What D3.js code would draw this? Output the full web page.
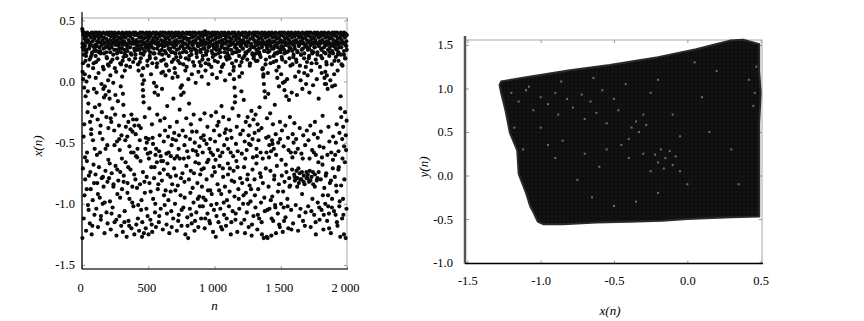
<!DOCTYPE html>
<html>
<head>
<meta charset="utf-8">
<script src="https://cdn.jsdelivr.net/npm/d3@7"></script>
<style>
  body { margin: 0; background: #fff; }
  svg { display: block; }
</style>
</head>
<body>
<div id="chart"></div>
<script>
// left panel: x(n) against n as [n, x(n)]
// dense band along the top
var bandPoints = [
  [2,0.43],[6,0.41],[10,0.38],[15,0.40],[19,0.35],[24,0.39],[29,0.33],[34,0.37],[40,0.40],[45,0.34],[51,0.38],[56,0.32],[62,0.39],[68,0.36],[74,0.40],[80,0.33],[86,0.38],[92,0.35],[97,0.40],
  [103,0.37],[109,0.40],[114,0.33],[120,0.38],[126,0.35],[131,0.40],[137,0.32],[143,0.37],[148,0.39],[154,0.34],[160,0.40],[166,0.36],[172,0.31],[177,0.39],[183,0.35],[189,0.40],[195,0.33],
  [201,0.38],[207,0.40],[212,0.34],[218,0.37],[224,0.40],[230,0.32],[235,0.38],[241,0.35],[247,0.40],[253,0.33],[258,0.37],[264,0.39],[270,0.34],[276,0.40],[282,0.36],[288,0.32],[294,0.39],
  [300,0.35],[305,0.40],[311,0.37],[317,0.33],[323,0.39],[329,0.36],[334,0.40],[340,0.31],[346,0.38],[352,0.34],[358,0.40],[364,0.37],[369,0.32],[375,0.39],[381,0.35],[387,0.40],[393,0.33],[398,0.38],
  [404,0.40],[410,0.34],[416,0.38],[421,0.32],[427,0.39],[433,0.36],[439,0.40],[445,0.33],[451,0.37],[457,0.40],[462,0.35],[468,0.31],[474,0.39],[480,0.36],[486,0.40],[492,0.33],[497,0.38],
  [503,0.35],[509,0.40],[515,0.37],[520,0.32],[526,0.39],[532,0.34],[538,0.40],[544,0.36],[550,0.33],[556,0.38],[561,0.40],[567,0.35],[573,0.31],[579,0.39],[585,0.37],[591,0.40],[597,0.34],
  [602,0.38],[608,0.40],[614,0.33],[620,0.37],[626,0.40],[631,0.35],[637,0.32],[643,0.39],[649,0.36],[655,0.40],[661,0.34],[667,0.38],[672,0.31],[678,0.40],[684,0.36],[690,0.39],[696,0.33],
  [701,0.37],[707,0.40],[713,0.34],[719,0.38],[725,0.32],[730,0.40],[736,0.36],[742,0.39],[748,0.33],[754,0.37],[760,0.40],[766,0.35],[771,0.31],[777,0.39],[783,0.36],[789,0.40],[795,0.34],
  [801,0.39],[807,0.35],[812,0.40],[818,0.32],[824,0.38],[830,0.36],[836,0.40],[842,0.33],[848,0.37],[853,0.40],[859,0.34],[865,0.39],[871,0.31],[877,0.36],[883,0.40],[889,0.35],[895,0.38],
  [900,0.33],[906,0.40],[912,0.37],[918,0.34],[924,0.39],[929,0.41],[935,0.32],[941,0.38],[947,0.35],[953,0.40],[959,0.36],[965,0.33],[970,0.39],[976,0.37],[982,0.40],[988,0.34],[994,0.38],
  [1000,0.40],[1006,0.35],[1011,0.38],[1017,0.32],[1023,0.40],[1029,0.36],[1035,0.39],[1041,0.33],[1047,0.37],[1052,0.40],[1058,0.34],[1064,0.31],[1070,0.38],[1076,0.40],[1082,0.35],[1088,0.37],[1094,0.33],[1099,0.39],
  [1105,0.40],[1111,0.36],[1117,0.33],[1123,0.39],[1129,0.35],[1134,0.40],[1140,0.32],[1146,0.37],[1152,0.40],[1158,0.34],[1164,0.38],[1170,0.36],[1175,0.31],[1181,0.40],[1187,0.35],[1193,0.38],[1199,0.33],
  [1205,0.39],[1211,0.40],[1216,0.34],[1222,0.37],[1228,0.32],[1234,0.40],[1240,0.36],[1246,0.39],[1252,0.33],[1257,0.38],[1263,0.40],[1269,0.35],[1275,0.31],[1281,0.39],[1287,0.36],[1293,0.40],[1298,0.34],
  [1304,0.38],[1310,0.40],[1316,0.33],[1322,0.37],[1328,0.40],[1334,0.35],[1339,0.32],[1345,0.39],[1351,0.36],[1357,0.40],[1363,0.34],[1369,0.38],[1375,0.31],[1380,0.40],[1386,0.36],[1392,0.39],[1398,0.33],
  [1404,0.37],[1410,0.40],[1416,0.34],[1421,0.38],[1427,0.32],[1433,0.40],[1439,0.36],[1445,0.39],[1451,0.33],[1457,0.37],[1462,0.40],[1468,0.35],[1474,0.31],[1480,0.39],[1486,0.36],[1492,0.40],[1498,0.34],
  [1503,0.38],[1509,0.40],[1515,0.33],[1521,0.37],[1527,0.40],[1533,0.35],[1539,0.32],[1544,0.39],[1550,0.36],[1556,0.40],[1562,0.34],[1568,0.38],[1574,0.31],[1580,0.40],[1585,0.36],[1591,0.39],[1597,0.33],
  [1603,0.37],[1609,0.40],[1615,0.34],[1621,0.38],[1626,0.32],[1632,0.40],[1638,0.36],[1644,0.39],[1650,0.33],[1656,0.37],[1662,0.40],[1667,0.35],[1673,0.31],[1679,0.39],[1685,0.36],[1691,0.40],[1697,0.34],
  [1703,0.38],[1708,0.40],[1714,0.33],[1720,0.37],[1726,0.40],[1732,0.35],[1738,0.32],[1744,0.39],[1749,0.36],[1755,0.40],[1761,0.34],[1767,0.38],[1773,0.31],[1779,0.40],[1785,0.36],[1790,0.39],[1796,0.33],
  [1802,0.37],[1808,0.40],[1814,0.34],[1820,0.38],[1826,0.32],[1831,0.40],[1837,0.36],[1843,0.39],[1849,0.33],[1855,0.37],[1861,0.40],[1867,0.35],[1872,0.31],[1878,0.39],[1884,0.36],[1890,0.40],[1896,0.34],
  [1902,0.38],[1908,0.40],[1913,0.33],[1919,0.37],[1925,0.40],[1931,0.35],[1937,0.32],[1943,0.39],[1949,0.36],[1954,0.40],[1960,0.34],[1966,0.38],[1972,0.31],[1978,0.40],[1984,0.36],[1990,0.39],[1995,0.33],[1999,0.38]
];

// thick zone right under the band
var underBandPoints = [
  [4,0.31],[13,0.26],[22,0.29],[33,0.24],[43,0.32],[54,0.27],[64,0.31],[73,0.22],[83,0.29],[93,0.25],
  [101,0.30],[111,0.25],[121,0.32],[131,0.28],[141,0.23],[152,0.31],[162,0.27],[173,0.32],[183,0.24],[194,0.29],
  [203,0.31],[213,0.24],[223,0.28],[233,0.32],[243,0.26],[254,0.30],[264,0.23],[275,0.31],[285,0.27],[296,0.32],
  [302,0.27],[312,0.32],[322,0.23],[332,0.30],[343,0.25],[353,0.31],[363,0.28],[374,0.22],[384,0.31],[394,0.27],
  [402,0.31],[413,0.26],[423,0.32],[434,0.29],[443,0.23],[454,0.27],[464,0.32],[475,0.25],[485,0.30],[496,0.28],
  [505,0.30],[515,0.24],[526,0.28],[536,0.32],[547,0.23],[557,0.31],[567,0.27],[578,0.32],[588,0.25],[598,0.30],
  [603,0.26],[613,0.32],[623,0.29],[634,0.23],[644,0.31],[654,0.27],[664,0.32],[675,0.24],[685,0.30],[695,0.28],
  [706,0.31],[716,0.26],[727,0.32],[737,0.23],[747,0.29],[757,0.32],[768,0.27],[778,0.31],[788,0.24],[798,0.30],
  [803,0.28],[813,0.32],[823,0.25],[834,0.30],[844,0.27],[854,0.32],[864,0.23],[874,0.29],[885,0.31],[894,0.26],
  [905,0.32],[915,0.27],[926,0.30],[936,0.24],[946,0.31],[956,0.28],[967,0.32],[977,0.25],[987,0.30],[997,0.27],
  [1003,0.31],[1013,0.26],[1023,0.29],[1034,0.32],[1044,0.24],[1054,0.28],[1065,0.32],[1075,0.27],[1085,0.31],[1096,0.23],
  [1106,0.29],[1116,0.32],[1126,0.26],[1136,0.31],[1147,0.24],[1157,0.30],[1167,0.27],[1178,0.32],[1188,0.25],[1197,0.29],
  [1203,0.31],[1214,0.27],[1224,0.32],[1234,0.24],[1245,0.29],[1255,0.32],[1265,0.26],[1276,0.30],[1286,0.23],[1296,0.28],
  [1307,0.32],[1317,0.26],[1327,0.30],[1337,0.24],[1347,0.31],[1358,0.28],[1368,0.32],[1378,0.25],[1389,0.30],[1399,0.27],
  [1405,0.31],[1415,0.25],[1425,0.29],[1436,0.32],[1446,0.27],[1456,0.23],[1467,0.31],[1477,0.28],[1487,0.32],[1497,0.24],
  [1504,0.29],[1514,0.32],[1525,0.26],[1535,0.30],[1545,0.24],[1556,0.31],[1566,0.28],[1576,0.32],[1587,0.25],[1596,0.30],
  [1606,0.27],[1616,0.32],[1627,0.24],[1637,0.29],[1647,0.31],[1658,0.26],[1668,0.32],[1678,0.23],[1689,0.30],[1699,0.28],
  [1704,0.32],[1714,0.27],[1725,0.30],[1735,0.25],[1745,0.31],[1756,0.28],[1766,0.32],[1776,0.24],[1787,0.29],[1797,0.31],
  [1807,0.26],[1817,0.32],[1827,0.28],[1838,0.23],[1848,0.30],[1858,0.32],[1868,0.27],[1879,0.31],[1889,0.25],[1899,0.29],
  [1905,0.32],[1916,0.27],[1926,0.30],[1936,0.24],[1946,0.31],[1957,0.28],[1967,0.32],[1977,0.22],[1988,0.30],[1998,0.26]
];

// points between 0.1 and 0.3
var upperPoints = [
  [5,0.28],[14,0.22],[19,0.30],[26,0.17],[35,0.26],[47,0.13],[58,0.29],[66,0.20],[77,0.24],[88,0.15],[95,0.27],
  [103,0.21],[112,0.29],[124,0.18],[137,0.25],[149,0.30],[158,0.12],[166,0.23],[179,0.28],[188,0.19],[196,0.14],
  [206,0.27],[217,0.16],[225,0.30],[236,0.22],[248,0.11],[259,0.26],[266,0.19],[278,0.29],[289,0.15],[294,0.24],
  [305,0.30],[313,0.20],[322,0.26],[334,0.13],[345,0.28],[356,0.18],[368,0.23],[377,0.31],[386,0.16],[398,0.25],
  [404,0.22],[415,0.29],[423,0.14],[432,0.26],[444,0.19],[452,0.30],[461,0.11],[469,0.24],[481,0.28],[493,0.17],
  [502,0.26],[511,0.21],[523,0.30],[531,0.15],[542,0.27],[556,0.19],[564,0.12],[575,0.29],[584,0.23],[597,0.17],
  [608,0.29],[617,0.18],[626,0.25],[638,0.13],[647,0.30],[655,0.21],[666,0.27],[678,0.16],[687,0.24],[699,0.11],
  [704,0.23],[712,0.30],[725,0.17],[733,0.27],[744,0.20],[756,0.29],[765,0.14],[776,0.25],[784,0.19],[795,0.28],
  [806,0.18],[815,0.27],[826,0.22],[835,0.30],[847,0.13],[856,0.26],[867,0.20],[879,0.29],[888,0.16],[896,0.24],
  [903,0.30],[912,0.21],[924,0.27],[933,0.15],[945,0.25],[953,0.18],[964,0.29],[976,0.12],[985,0.23],[997,0.28],
  [1005,0.22],[1016,0.29],[1025,0.16],[1037,0.26],[1044,0.20],[1056,0.30],[1067,0.14],[1075,0.24],[1086,0.27],[1094,0.18],
  [1103,0.26],[1114,0.19],[1122,0.30],[1135,0.23],[1146,0.12],[1155,0.28],[1163,0.17],[1177,0.25],[1186,0.21],[1198,0.30],
  [1204,0.16],[1213,0.27],[1226,0.21],[1234,0.30],[1247,0.18],[1255,0.25],[1266,0.13],[1278,0.28],[1287,0.22],[1295,0.19],
  [1306,0.29],[1314,0.23],[1325,0.17],[1336,0.27],[1348,0.20],[1357,0.30],[1365,0.11],[1374,0.25],[1388,0.18],[1397,0.28],
  [1404,0.24],[1416,0.30],[1423,0.15],[1435,0.27],[1447,0.21],[1454,0.29],[1466,0.17],[1477,0.24],[1485,0.12],[1496,0.26],
  [1507,0.20],[1515,0.28],[1527,0.23],[1536,0.16],[1544,0.30],[1558,0.25],[1566,0.19],[1574,0.27],[1589,0.14],[1597,0.22],
  [1603,0.29],[1616,0.18],[1624,0.25],[1637,0.30],[1645,0.13],[1653,0.22],[1668,0.27],[1676,0.19],[1685,0.29],[1698,0.16],
  [1705,0.26],[1714,0.21],[1726,0.30],[1733,0.15],[1746,0.24],[1755,0.28],[1764,0.18],[1777,0.22],[1788,0.30],[1796,0.12],
  [1806,0.27],[1813,0.19],[1827,0.24],[1835,0.30],[1844,0.16],[1857,0.26],[1866,0.21],[1874,0.29],[1886,0.14],[1895,0.23],
  [1904,0.30],[1915,0.20],[1923,0.26],[1936,0.17],[1944,0.28],[1955,0.22],[1966,0.13],[1977,0.25],[1986,0.19],[1995,0.29]
];

// points between 0.1 and -0.6
var middlePoints = [
  [4,0.08],[9,0.02],[16,-0.05],[21,0.06],[27,-0.12],[34,0.00],[42,-0.25],[48,-0.18],[55,0.04],[61,-0.33],[69,-0.43],[75,-0.28],[83,-0.48],[90,-0.06],[96,-0.55],[12,-0.45],[38,-0.58],
  [104,0.03],[110,-0.09],[118,-0.31],[125,0.07],[131,-0.19],[140,-0.36],[147,-0.02],[155,-0.47],[161,-0.06],[166,-0.13],[172,-0.04],[178,-0.11],[184,-0.29],[191,-0.52],[197,0.01],[136,-0.58],
  [203,-0.08],[208,-0.14],[214,0.05],[221,-0.33],[229,-0.22],[236,-0.01],[243,-0.40],[250,-0.27],[258,0.08],[264,-0.49],[271,-0.16],[279,-0.36],[285,-0.56],[292,-0.04],[298,-0.44],
  [303,0.04],[309,-0.10],[316,-0.28],[323,0.09],[331,-0.37],[342,-0.45],[350,-0.33],[358,-0.53],[366,-0.39],[373,-0.27],[381,-0.41],[389,-0.58],[396,-0.36],[312,-0.19],
  [405,-0.43],[412,-0.31],[419,-0.55],[427,0.09],[436,-0.48],[444,-0.38],[452,0.05],[457,-0.02],[460,-0.07],[462,-0.12],[465,-0.17],[468,0.01],[474,-0.29],[482,-0.46],[489,-0.50],[496,-0.59],
  [503,-0.47],[508,-0.22],[515,-0.58],[521,0.06],[528,-0.35],[536,-0.51],[543,-0.01],[548,-0.09],[555,-0.60],[561,-0.04],[568,-0.27],[574,-0.11],[582,-0.57],[587,-0.44],[594,-0.61],[599,0.07],
  [604,-0.06],[611,0.08],[617,-0.49],[623,-0.30],[630,0.05],[637,-0.59],[643,-0.20],[650,-0.45],[657,0.09],[663,-0.37],[670,-0.61],[676,-0.52],[683,0.03],[690,-0.14],[696,-0.42],
  [703,0.07],[709,-0.48],[716,-0.33],[722,0.04],[729,-0.55],[737,-0.23],[744,-0.05],[748,-0.11],[754,-0.03],[760,-0.40],[767,-0.09],[773,-0.52],[780,0.09],[787,-0.30],[794,-0.57],
  [803,0.02],[808,-0.18],[815,-0.47],[822,-0.35],[829,0.06],[836,-0.56],[843,-0.27],[851,-0.50],[858,-0.01],[865,-0.41],[872,-0.60],[879,0.08],[886,-0.53],[893,-0.31],[898,-0.46],
  [904,0.04],[911,-0.58],[918,-0.44],[925,-0.26],[932,0.09],[940,-0.51],[947,-0.37],[954,-0.02],[961,-0.55],[968,-0.47],[975,-0.28],[983,0.06],[989,-0.60],[996,-0.40],
  [1004,-0.49],[1011,-0.25],[1018,0.03],[1025,-0.56],[1031,-0.33],[1038,-0.44],[1046,0.08],[1053,-0.20],[1059,-0.58],[1066,-0.29],[1073,-0.52],[1080,0.01],[1087,-0.39],[1094,-0.47],
  [1103,-0.55],[1109,-0.31],[1116,0.06],[1122,-0.58],[1129,-0.46],[1136,-0.22],[1143,0.09],[1147,0.02],[1151,-0.05],[1156,-0.12],[1162,-0.51],[1168,-0.37],[1175,-0.57],[1182,-0.28],[1188,0.04],[1195,-0.43],
  [1203,-0.08],[1208,0.07],[1214,-0.40],[1221,-0.15],[1228,-0.49],[1236,-0.33],[1243,-0.56],[1250,-0.29],[1258,-0.44],[1265,-0.36],[1272,-0.52],[1279,-0.24],[1287,-0.47],[1294,-0.31],
  [1303,-0.42],[1310,-0.27],[1317,-0.55],[1325,-0.35],[1332,-0.48],[1340,-0.21],[1348,-0.58],[1355,-0.38],[1362,0.10],[1368,0.04],[1373,-0.02],[1378,-0.08],[1383,-0.13],[1390,-0.46],[1396,-0.30],
  [1403,0.07],[1408,-0.45],[1414,-0.52],[1420,-0.26],[1427,-0.57],[1434,-0.48],[1441,-0.35],[1448,-0.55],[1455,-0.19],[1462,-0.43],[1468,0.09],[1474,0.03],[1481,-0.50],[1487,-0.04],[1494,-0.33],
  [1503,0.06],[1509,-0.40],[1516,-0.01],[1522,-0.53],[1528,-0.07],[1535,-0.36],[1542,-0.12],[1548,0.02],[1555,-0.46],[1562,-0.15],[1569,-0.29],[1576,-0.58],[1583,-0.09],[1590,-0.43],[1597,-0.50],
  [1603,-0.34],[1609,0.04],[1616,-0.47],[1622,-0.11],[1629,-0.55],[1636,0.08],[1643,-0.38],[1650,0.01],[1656,-0.59],[1663,-0.06],[1670,-0.44],[1677,0.07],[1684,-0.52],[1691,-0.02],[1697,-0.40],
  [1703,0.05],[1709,-0.48],[1716,-0.09],[1723,-0.36],[1730,0.09],[1737,-0.56],[1744,-0.03],[1751,-0.43],[1758,-0.33],[1765,-0.60],[1772,0.02],[1779,-0.46],[1786,-0.14],[1793,-0.53],
  [1803,-0.41],[1809,0.07],[1816,-0.28],[1823,-0.54],[1830,0.03],[1836,0.08],[1842,-0.02],[1848,0.05],[1854,-0.06],[1860,-0.37],[1867,-0.49],[1874,0.01],[1881,-0.58],[1888,-0.04],[1895,-0.45],
  [1903,0.06],[1909,-0.03],[1916,-0.50],[1922,-0.35],[1929,0.09],[1936,-0.57],[1943,-0.42],[1950,-0.22],[1957,-0.29],[1964,-0.47],[1971,-0.37],[1978,-0.53],[1985,-0.25],[1991,-0.44],[1997,-0.32]
];

// points below -0.6
var lowerPoints = [
  [3,-1.28],[7,-0.71],[13,-1.12],[19,-0.93],[24,-0.80],[31,-1.22],[37,-0.65],[45,-1.01],[52,-0.77],[59,-1.16],[66,-0.88],[73,-1.25],[81,-0.97],[87,-0.68],[94,-1.09],
  [102,-0.76],[108,-1.04],[115,-0.83],[121,-1.19],[128,-0.70],[134,-0.95],[142,-1.13],[149,-0.79],[156,-1.00],[163,-0.86],[170,-1.24],[177,-0.73],[185,-1.07],[192,-0.82],[199,-0.64],
  [204,-0.79],[211,-0.98],[217,-1.21],[224,-0.75],[231,-1.03],[238,-0.84],[246,-1.15],[253,-0.69],[260,-1.26],[267,-0.92],[274,-0.81],[282,-1.10],[289,-0.74],[296,-1.18],
  [302,-0.88],[308,-1.23],[315,-0.77],[322,-1.06],[329,-0.66],[337,-1.27],[344,-0.83],[351,-1.14],[358,-0.96],[366,-0.72],[373,-1.20],[380,-0.86],[388,-1.02],[395,-1.25],
  [403,-0.80],[410,-1.17],[417,-0.62],[424,-1.01],[431,-1.22],[438,-0.84],[446,-1.05],[453,-1.27],[460,-0.74],[467,-1.24],[474,-0.91],[481,-1.20],[488,-0.78],[495,-1.10],
  [502,-1.25],[509,-0.83],[516,-1.13],[523,-0.70],[530,-1.23],[537,-0.96],[544,-0.79],[551,-1.07],[558,-1.19],[565,-0.66],[572,-0.88],[580,-1.15],[587,-0.75],[594,-1.04],
  [603,-0.81],[610,-1.21],[617,-0.72],[624,-1.01],[631,-0.89],[638,-1.17],[645,-0.67],[652,-0.97],[659,-1.24],[667,-0.78],[674,-1.06],[681,-0.84],[688,-1.12],[695,-0.71],
  [702,-1.00],[709,-0.77],[716,-1.22],[723,-0.85],[730,-1.09],[737,-0.63],[744,-0.93],[751,-1.18],[758,-0.75],[765,-1.03],[773,-0.82],[780,-1.25],[788,-0.69],[795,-1.11],
  [801,-1.28],[807,-0.80],[814,-1.04],[821,-0.73],[828,-1.16],[835,-0.87],[842,-0.99],[849,-1.22],[856,-0.66],[863,-1.07],[871,-0.83],[878,-1.19],[885,-0.94],[892,-0.76],[899,-1.12],
  [905,-0.86],[912,-1.02],[919,-0.71],[926,-1.20],[933,-0.97],[940,-0.80],[947,-1.08],[954,-0.64],[961,-1.14],[968,-0.89],[975,-1.01],[982,-0.77],[989,-1.23],[996,-1.05],
  [1003,-0.74],[1010,-1.27],[1016,-1.00],[1023,-0.84],[1030,-1.15],[1037,-0.69],[1044,-1.04],[1051,-0.92],[1058,-1.21],[1065,-0.78],[1072,-1.09],[1079,-0.86],[1087,-1.18],[1094,-0.97],
  [1102,-0.76],[1109,-1.02],[1116,-0.71],[1123,-1.25],[1130,-0.81],[1137,-1.06],[1144,-0.73],[1151,-0.94],[1158,-1.13],[1165,-0.65],[1172,-1.23],[1180,-0.88],[1187,-1.04],[1194,-0.79],
  [1202,-1.16],[1209,-0.83],[1216,-1.00],[1223,-0.70],[1230,-1.24],[1237,-0.91],[1244,-1.07],[1251,-0.76],[1258,-1.19],[1265,-0.85],[1272,-0.98],[1280,-1.26],[1287,-0.72],[1294,-1.10],
  [1302,-0.80],[1309,-1.03],[1316,-0.67],[1323,-1.21],[1330,-0.88],[1337,-1.12],[1344,-0.75],[1351,-0.99],[1358,-1.25],[1365,-0.83],[1372,-1.28],[1380,-1.06],[1387,-0.71],[1394,-1.27],
  [1401,-1.28],[1408,-0.86],[1415,-1.04],[1422,-0.73],[1429,-1.26],[1436,-0.94],[1443,-1.14],[1450,-0.80],[1457,-1.01],[1464,-1.24],[1471,-0.69],[1478,-1.08],[1486,-0.84],[1493,-1.19],
  [1502,-1.00],[1508,-0.77],[1515,-1.23],[1522,-1.03],[1529,-0.82],[1536,-1.11],[1543,-0.74],[1550,-0.96],[1557,-1.20],[1564,-0.79],[1571,-0.85],[1578,-1.05],[1586,-0.72],[1593,-1.16],
  [1602,-0.76],[1607,-0.81],[1613,-1.01],[1619,-0.73],[1625,-0.79],[1631,-1.22],[1637,-0.83],[1643,-0.75],[1649,-1.04],[1655,-0.80],[1661,-0.92],[1668,-1.14],[1674,-0.77],[1680,-0.84],[1687,-1.07],[1694,-0.74],
  [1701,-0.79],[1707,-1.02],[1713,-0.82],[1719,-0.73],[1726,-1.19],[1732,-0.78],[1739,-0.96],[1745,-0.84],[1752,-1.09],[1758,-0.76],[1765,-1.25],[1772,-0.81],[1779,-0.99],[1786,-0.74],[1793,-1.13],
  [1802,-0.80],[1808,-1.05],[1815,-0.68],[1822,-1.21],[1829,-0.87],[1836,-1.00],[1843,-0.75],[1850,-1.14],[1857,-0.93],[1864,-1.08],[1871,-0.83],[1878,-1.24],[1886,-1.03],[1893,-0.71],
  [1902,-1.06],[1908,-0.78],[1914,-1.09],[1921,-0.90],[1928,-1.18],[1935,-0.72],[1942,-1.02],[1949,-1.27],[1956,-0.85],[1963,-1.12],[1970,-0.96],[1977,-1.25],[1984,-0.66],[1990,-1.28],[1996,-1.04]
];

// further scattered points across the whole spread
var scatterPoints = [
  [8,0.15],[17,-0.35],[23,-0.62],[30,0.21],[36,-0.88],[44,-0.08],[50,-1.05],[57,0.18],[63,-0.74],[70,-0.39],[78,-1.18],[84,0.11],[91,-0.83],[98,-0.21],
  [106,0.16],[113,-0.60],[120,-0.92],[128,0.24],[135,-0.42],[143,-1.10],[150,-0.25],[158,-0.78],[164,0.10],[171,-0.99],[178,-0.55],[186,0.20],[193,-1.16],[199,-0.38],
  [202,0.13],[209,-0.67],[216,-0.30],[223,-1.08],[230,0.18],[237,-0.86],[245,-0.52],[252,-0.11],[259,-1.13],[266,-0.72],[273,0.25],[281,-0.47],[288,-0.95],[295,0.14],
  [301,-0.63],[307,0.17],[314,-0.82],[320,-1.15],[327,-0.48],[335,0.21],[343,-0.91],[349,-0.70],[356,-1.18],[363,0.12],[371,-0.58],[379,-0.99],[386,-0.31],[394,-0.76],
  [401,0.19],[408,-0.61],[415,-0.87],[422,-1.12],[429,-0.36],[437,0.16],[442,-0.65],[449,-0.97],[455,-1.15],[463,0.22],[471,-0.82],[478,-0.55],[486,-1.04],[494,0.13],
  [505,-0.63],[512,0.19],[518,-0.90],[526,-1.17],[533,-0.46],[540,0.23],[547,-0.70],[553,-1.00],[560,-0.55],[567,0.15],[576,-0.84],[583,-1.10],[590,-0.32],[598,-0.65],
  [605,0.22],[612,-0.65],[619,-0.93],[627,-0.40],[634,0.14],[641,-1.08],[648,-0.76],[654,-0.58],[661,0.26],[669,-0.90],[677,-1.19],[684,-0.47],[692,0.18],[699,-0.63],
  [705,-0.89],[711,0.20],[718,-0.61],[726,-1.14],[732,-0.44],[739,0.15],[747,-0.79],[752,-1.05],[759,0.24],[768,-0.63],[775,-0.95],[782,-0.45],[790,0.12],[797,-1.18],
  [804,-0.62],[810,0.21],[818,-0.91],[825,-1.09],[831,-0.41],[838,0.16],[845,-0.75],[853,-1.14],[860,-0.57],[867,0.25],[874,-0.96],[882,-0.67],[890,-1.02],[897,0.13],
  [902,-0.72],[909,0.18],[916,-0.95],[922,-0.48],[930,-1.12],[937,0.22],[944,-0.66],[951,-0.89],[958,0.14],[966,-1.16],[972,-0.58],[979,-0.92],[987,0.20],[994,-0.70],
  [1002,0.17],[1008,-0.64],[1015,-1.10],[1021,-0.36],[1028,0.23],[1035,-0.89],[1042,-0.61],[1049,-1.19],[1056,0.12],[1063,-0.71],[1070,-0.99],[1078,-0.42],[1085,0.20],[1092,-1.12],
  [1101,-0.67],[1107,0.21],[1114,-0.90],[1120,-0.40],[1127,-1.15],[1133,0.15],[1141,-0.61],[1149,-0.82],[1154,-0.17],[1160,-1.08],[1167,0.24],[1174,-0.70],[1183,-0.96],[1191,0.13],
  [1206,-0.59],[1212,0.19],[1219,-0.93],[1225,-1.13],[1232,-0.63],[1239,0.23],[1247,-0.80],[1254,-1.00],[1261,-0.51],[1268,0.15],[1276,-0.88],[1283,-1.17],[1290,-0.62],[1297,0.21],
  [1305,-0.93],[1312,0.17],[1319,-0.61],[1327,-1.09],[1334,-0.40],[1342,0.22],[1350,-0.78],[1356,-1.15],[1364,-0.63],[1370,0.06],[1376,-0.95],[1385,0.14],[1392,-0.58],[1399,-1.05],
  [1406,-0.10],[1411,-0.62],[1418,0.20],[1425,-0.97],[1431,-1.12],[1438,-0.51],[1446,0.16],[1452,-0.77],[1459,-1.03],[1465,-0.60],[1472,0.23],[1479,-0.90],[1488,-1.17],[1495,-0.47],
  [1505,-0.64],[1511,0.18],[1518,-0.90],[1525,-1.14],[1531,0.00],[1538,-0.68],[1546,0.24],[1552,-1.02],[1559,-0.56],[1566,-0.86],[1573,0.13],[1580,-1.21],[1588,-0.62],[1595,0.20],
  [1605,-0.78],[1611,-0.58],[1618,0.16],[1624,-0.86],[1633,-0.71],[1640,-1.10],[1647,-0.80],[1653,0.22],[1660,-0.74],[1666,-0.63],[1673,-0.82],[1682,-1.18],[1689,0.12],[1696,-0.79],
  [1704,-0.76],[1711,0.19],[1717,-0.63],[1724,-0.81],[1731,-1.06],[1738,0.23],[1743,-0.74],[1750,-0.58],[1757,-0.86],[1763,-1.15],[1770,0.15],[1777,-0.79],[1784,-0.66],[1791,-1.03],
  [1804,0.21],[1811,-0.62],[1818,-0.93],[1825,-1.09],[1833,-0.02],[1840,-0.77],[1846,0.14],[1852,-0.60],[1858,-1.02],[1865,-1.20],[1872,0.24],[1879,-0.81],[1887,-0.96],[1894,-0.64],
  [1905,0.17],[1911,-0.60],[1918,-0.85],[1924,-1.15],[1931,0.22],[1938,-0.70],[1945,-0.98],[1952,-0.12],[1959,0.14],[1966,-0.63],[1973,-1.09],[1980,-0.80],[1987,0.19],[1993,-0.56]
];

var leftXTicks = [0, 500, 1000, 1500, 2000];
var leftXTickLabels = ['0', '500', '1 000', '1 500', '2 000'];
var leftYTicks = [-1.5, -1.0, -0.5, 0.0, 0.5];

// right panel: outline of the filled attractor, (x(n), y(n))
var attractorEdgeX = [-1.28,-1.27,-1.10,-0.80,-0.53,-0.20,0.06,0.20,0.29,0.38,0.45,0.49,0.49,0.50,0.49,0.49,0.49,0.30,0.00,-0.17,-0.40,-0.62,-0.85,-0.98,-1.02,-1.05,-1.07,-1.10,-1.15,-1.16,-1.21,-1.24,-1.27];
var attractorEdgeY = [1.04,1.08,1.13,1.21,1.27,1.36,1.45,1.51,1.55,1.56,1.53,1.51,1.20,0.95,0.60,0.10,-0.47,-0.48,-0.50,-0.52,-0.53,-0.54,-0.56,-0.56,-0.53,-0.42,-0.36,-0.20,0.02,0.29,0.49,0.75,0.95];

// lighter gaps inside the dark mass
var lightSpots = [
  [-1.20,0.95],[-1.15,0.85],[-1.10,0.98],[-1.05,0.75],[-1.00,0.90],[-0.95,0.82],[-0.90,0.95],[-0.88,0.70],[-0.82,0.88],[-0.78,0.78],
  [-0.72,0.93],[-0.70,0.65],[-0.66,0.85],[-0.62,0.72],[-0.58,0.98],[-0.55,0.60],[-0.50,0.88],[-0.47,0.75],[-0.42,1.05],[-0.38,0.55],
  [-0.35,0.62],[-0.33,0.50],[-0.30,0.70],[-0.28,0.58],[-0.25,0.95],[-0.20,1.10],[-0.18,0.30],[-0.15,0.20],[-0.12,0.28],[-0.10,0.12],
  [-0.08,0.22],[-0.05,0.05],[-0.20,0.15],[-0.25,0.05],[-0.30,0.25],[-0.40,0.20],[-0.45,0.35],[-0.55,0.30],[-0.60,0.10],[-0.70,0.25],
  [-0.75,-0.05],[-0.85,0.40],[-0.90,0.20],[-0.65,-0.25],[-0.50,-0.35],[-0.35,-0.30],[-0.20,-0.20],[0.05,1.30],[0.10,0.90],[0.15,0.50],
  [0.20,1.20],[0.30,0.30],[0.35,-0.10],[0.42,1.10],[0.46,0.95],[0.47,1.25],[0.45,0.80],[-1.18,0.55],[-1.12,0.30],[-1.00,0.55],
  [-0.95,0.35],[0.00,-0.10],[-0.10,0.70],[-0.05,0.45],[-1.08,1.02],[-0.86,1.08],[-0.64,1.12],[-0.40,0.42],[-0.22,0.24],[-0.16,0.08]
];

var rightXTicks = [-1.5, -1.0, -0.5, 0.0, 0.5];
var rightYTicks = [-1.0, -0.5, 0.0, 0.5, 1.0, 1.5];

var svgWidth = 864;
var svgHeight = 321;
var serif = '"Liberation Serif", "Times New Roman", serif';

var svg = d3.select('#chart')
    .append('svg')
    .attr('width', svgWidth)
    .attr('height', svgHeight);

svg.append('rect').attr('width', svgWidth).attr('height', svgHeight).attr('fill', '#fff');

// fine grid of overlapping square markers inside the attractor
var grain = svg.append('defs').append('pattern')
    .attr('id', 'grain')
    .attr('width', 4).attr('height', 4)
    .attr('patternUnits', 'userSpaceOnUse');
grain.append('rect').attr('width', 4).attr('height', 4).attr('fill', '#0b0b0b');
grain.append('rect').attr('x', 0.5).attr('y', 0.5).attr('width', 3).attr('height', 3)
    .attr('fill', 'none').attr('stroke', '#161616').attr('stroke-width', 0.6);

// plot boxes
var leftBox = { left: 82, right: 347, top: 18, bottom: 269 };
var rightBox = { left: 465, right: 762, top: 40, bottom: 263.5 };

var xLeft = d3.scaleLinear().domain([0, 2000]).range([leftBox.left, leftBox.right]);
var yLeft = d3.scaleLinear().domain([-1.533, 0.52]).range([leftBox.bottom, leftBox.top]);
var xRight = d3.scaleLinear().domain([-1.516, 0.509]).range([rightBox.left, rightBox.right]);
var yRight = d3.scaleLinear().domain([-1.011, 1.557]).range([rightBox.bottom, rightBox.top]);

function styleAxis(g) {
    g.attr('font-family', serif).attr('font-size', 12.5);
    g.select('.domain').remove();
    g.selectAll('.tick line').attr('stroke', '#9a9a9a');
    g.selectAll('.tick text').attr('fill', '#000');
}

function fmt(d) { return d.toFixed(1); }

function drawFrame(box, xScale, yScale, xTicks, yTicks) {
    svg.append('rect')
        .attr('x', box.left).attr('y', box.top)
        .attr('width', box.right - box.left).attr('height', box.bottom - box.top)
        .attr('fill', 'none').attr('stroke', '#b8b8b8').attr('stroke-width', 1.2);
    svg.append('g')
        .attr('transform', `translate(0, ${box.top})`)
        .call(d3.axisTop(xScale).tickValues(xTicks).tickFormat('').tickSizeInner(-3).tickSizeOuter(0))
        .call(styleAxis);
    svg.append('g')
        .attr('transform', `translate(${box.right}, 0)`)
        .call(d3.axisRight(yScale).tickValues(yTicks).tickFormat('').tickSizeInner(-3).tickSizeOuter(0))
        .call(styleAxis);
}

// ---------- left panel ----------
drawFrame(leftBox, xLeft, yLeft, leftXTicks, leftYTicks);

var leftPoints = bandPoints.concat(underBandPoints, upperPoints, middlePoints, lowerPoints, scatterPoints);
svg.append('g')
    .selectAll('circle')
    .data(leftPoints)
    .enter()
    .append('circle')
    .attr('cx', d => xLeft(d[0]))
    .attr('cy', d => yLeft(d[1]))
    .attr('r', 2.1)
    .attr('fill', '#0a0a0a');

svg.append('g')
    .attr('transform', `translate(0, ${leftBox.bottom})`)
    .call(d3.axisBottom(xLeft).tickValues(leftXTicks).tickFormat((d, i) => leftXTickLabels[i])
        .tickSizeInner(-3).tickSizeOuter(0).tickPadding(14))
    .call(styleAxis)
    .selectAll('.tick text').attr('dx', -2);

svg.append('g')
    .attr('transform', `translate(${leftBox.left}, 0)`)
    .call(d3.axisLeft(yLeft).tickValues(leftYTicks).tickFormat(fmt)
        .tickSizeInner(-3).tickSizeOuter(0).tickPadding(7))
    .call(styleAxis);

// black axis lines
svg.append('line')
    .attr('x1', leftBox.left).attr('x2', leftBox.left)
    .attr('y1', leftBox.top - 6).attr('y2', leftBox.bottom)
    .attr('stroke', '#000').attr('stroke-width', 1.2);
svg.append('line')
    .attr('x1', leftBox.left).attr('x2', leftBox.right + 1)
    .attr('y1', leftBox.bottom).attr('y2', leftBox.bottom)
    .attr('stroke', '#000').attr('stroke-width', 1.2);

svg.append('text')
    .attr('x', (leftBox.left + leftBox.right) / 2)
    .attr('y', 310)
    .attr('text-anchor', 'middle')
    .attr('font-family', serif).attr('font-size', 13).attr('font-style', 'italic')
    .text('n');

svg.append('text')
    .attr('transform', 'translate(42, 146) rotate(-90)')
    .attr('text-anchor', 'middle')
    .attr('font-family', serif).attr('font-size', 13).attr('font-style', 'italic')
    .text('x(n)');

// ---------- right panel ----------
drawFrame(rightBox, xRight, yRight, rightXTicks, rightYTicks);

var edge = d3.line()
    .x(i => xRight(attractorEdgeX[i]))
    .y(i => yRight(attractorEdgeY[i]))
    .curve(d3.curveLinearClosed);

svg.append('path')
    .attr('d', edge(d3.range(attractorEdgeX.length)))
    .attr('fill', 'url(#grain)')
    .attr('stroke', '#2a2a2a')
    .attr('stroke-width', 2)
    .attr('stroke-linejoin', 'round');

svg.append('g')
    .selectAll('rect')
    .data(lightSpots)
    .enter()
    .append('rect')
    .attr('x', d => xRight(d[0]) - 1)
    .attr('y', d => yRight(d[1]) - 1)
    .attr('width', 2)
    .attr('height', 2)
    .attr('fill', '#6e6e6e');

svg.append('g')
    .attr('transform', `translate(0, ${rightBox.bottom})`)
    .call(d3.axisBottom(xRight).tickValues(rightXTicks).tickFormat(fmt)
        .tickSizeInner(-3).tickSizeOuter(0).tickPadding(13))
    .call(styleAxis);

svg.append('g')
    .attr('transform', `translate(${rightBox.left}, 0)`)
    .call(d3.axisLeft(yRight).tickValues(rightYTicks).tickFormat(fmt)
        .tickSizeInner(-4).tickSizeOuter(0).tickPadding(12))
    .call(styleAxis);

svg.append('line')
    .attr('x1', rightBox.left).attr('x2', rightBox.left)
    .attr('y1', rightBox.top - 4).attr('y2', rightBox.bottom)
    .attr('stroke', '#555').attr('stroke-width', 2.5);
svg.append('line')
    .attr('x1', rightBox.left).attr('x2', rightBox.right + 1)
    .attr('y1', rightBox.bottom).attr('y2', rightBox.bottom)
    .attr('stroke', '#000').attr('stroke-width', 1.5);

svg.append('text')
    .attr('x', 610)
    .attr('y', 315)
    .attr('text-anchor', 'middle')
    .attr('font-family', serif).attr('font-size', 13).attr('font-style', 'italic')
    .text('x(n)');

svg.append('text')
    .attr('transform', 'translate(428, 167) rotate(-90)')
    .attr('text-anchor', 'middle')
    .attr('font-family', serif).attr('font-size', 13).attr('font-style', 'italic')
    .text('y(n)');
</script>
</body>
</html>
